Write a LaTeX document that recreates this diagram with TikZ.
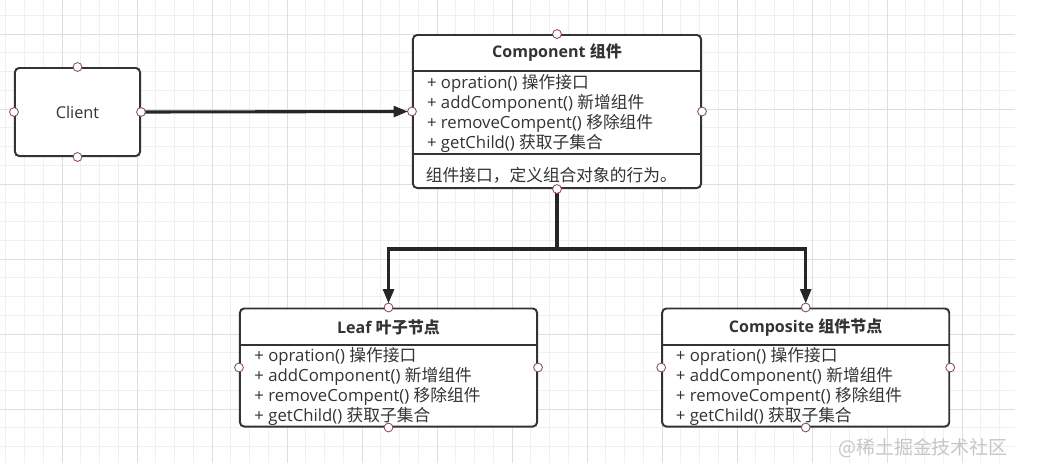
\documentclass[tikz,border=0pt]{standalone}
\usepackage{fontspec}
\setmainfont{Open Sans}
\newfontfamily\zhfont{Noto Sans CJK SC}
\newcommand{\zh}[1]{{\zhfont #1}}
\usepackage{tikz}
\usetikzlibrary{arrows.meta,positioning,calc}
\definecolor{lineDark}{HTML}{333333}
\definecolor{arrowDark}{HTML}{262626}
\definecolor{portRing}{HTML}{8A4A55}
\definecolor{gridMinor}{HTML}{F0F0F0}
\definecolor{gridMajor}{HTML}{DEDEDE}
\definecolor{wmGray}{HTML}{C6C6C6}
\newcommand{\memberList}{+ opration() \zh{操作接口}\\+ addComponent() \zh{新增组件}\\+ removeCompent() \zh{移除组件}\\+ getChild() \zh{获取子集合}}
\tikzset{
  clsBox/.style={draw=lineDark, fill=white, line width=1.4pt, rounded corners=3pt,
    text=lineDark, inner sep=0pt},
  clsTitle/.style={font=\fontsize{11.4}{14.2}\selectfont\bfseries, text=lineDark, inner sep=0pt},
  clsMem/.style={font=\fontsize{11.9}{14.2}\selectfont, text=lineDark, align=left, inner sep=0pt},
  clsLine/.style={draw=lineDark, line width=1.4pt},
  %% connectors
  clsArrow/.style={-{Triangle[length=0.36cm,width=0.27cm]}, line width=2.2pt,
    draw=arrowDark, shorten >=0.1cm},
  %% little connection rings
  clsPort/.style={draw=portRing, fill=white, line width=0.6pt},
  wmText/.style={font=\fontsize{13.5}{16}\selectfont, text=wmGray, inner sep=0pt},
}
\begin{document}
\begin{tikzpicture}[x=0.025cm, y=-0.025cm, font=\fontsize{11.6}{14.2}\selectfont]
\useasboundingbox (0,0) rectangle (1050,463);
\fill[white] (0,0) rectangle (1050,463);

% grid paper
\foreach \x in {5.75,24.5,...,1001}
  \draw[gridMinor, line width=0.5pt] (\x,0) -- (\x,463);
\foreach \y in {15.25,34,...,463}
  \draw[gridMinor, line width=0.5pt] (0,\y) -- (1015,\y);
\foreach \x in {62,137,...,1001}
  \draw[gridMajor, line width=0.5pt] (\x,0) -- (\x,463);
\foreach \y in {34,109,...,463}
  \draw[gridMajor, line width=0.5pt] (0,\y) -- (1015,\y);

% classes
\node[clsBox, minimum width=3.125cm, minimum height=2.2cm] (client) at (77.5,112) {Client};
\node[clsBox, minimum width=7.2cm, minimum height=3.825cm] (comp) at (557,111.5) {};
\node[clsBox, minimum width=7.425cm, minimum height=2.95cm] (leaf) at (388.5,367.5) {};
\node[clsBox, minimum width=7.175cm, minimum height=2.95cm] (compo) at (805.7,367.5) {};

\node[clsTitle] (compT) at (557,53) {Component \zh{组件}};
\node[clsTitle] (leafT) at (388.5,327.3) {Leaf \zh{叶子节点}};
\node[clsTitle] (compoT) at (805.7,327.3) {Composite \zh{组件节点}};

\draw[clsLine] ([yshift=-0.92cm]comp.north west) -- ([yshift=-0.92cm]comp.north east);
\draw[clsLine] ([yshift=-3.0cm]comp.north west) -- ([yshift=-3.0cm]comp.north east);
\draw[clsLine] ([yshift=-0.935cm]leaf.north west) -- ([yshift=-0.935cm]leaf.north east);
\draw[clsLine] ([yshift=-0.935cm]compo.north west) -- ([yshift=-0.935cm]compo.north east);

\node[clsMem, anchor=north west] (compM) at ([xshift=0.37cm, yshift=-1.0cm]comp.north west) {\memberList};
\node[clsMem, anchor=north west] (leafM) at ([xshift=0.38cm, yshift=-1.0cm]leaf.north west) {\memberList};
\node[clsMem, anchor=north west] (compoM) at ([xshift=0.36cm, yshift=-1.0cm]compo.north west) {\memberList};
\node[clsMem, anchor=west] (compN) at ([xshift=0.34cm, yshift=0.35cm]comp.south west) {\zh{组件接口，定义组合对象的行为。}};

% connectors
\coordinate (split) at (557,249);
\draw[clsArrow] (client.east) -- (comp.west);
\draw[clsArrow] (comp.south) -- (split) -| (leaf.north);
\draw[clsArrow] (split) -| (compo.north);

% rings at the four sides
\foreach \n in {client,comp,leaf,compo}
  \foreach \a in {north,south,east,west}
    \draw[clsPort] (\n.\a) circle[radius=0.11cm];

\node[wmText] (wm) at (923,448) {\zh{@稀土掘金技术社区}};
\end{tikzpicture}
\end{document}
